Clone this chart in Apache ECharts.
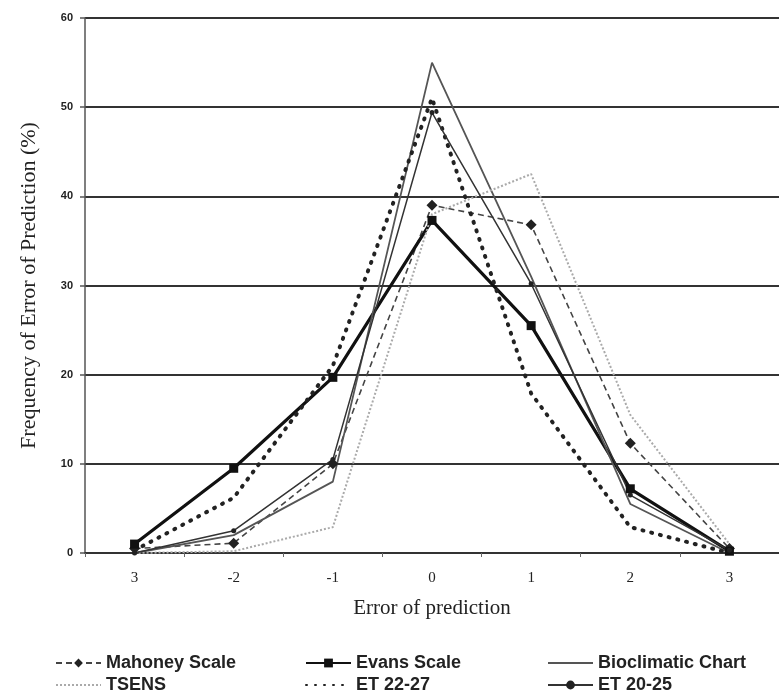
<!DOCTYPE html>
<html>
<head>
<meta charset="utf-8">
<script src="https://cdn.jsdelivr.net/npm/echarts@6/dist/echarts.min.js"></script>
<style>
html,body{margin:0;padding:0;background:#fff;}
#chart{width:779px;height:696px;}
</style>
</head>
<body>
<div id="chart"></div>
<script>
var categories = ['-3', '-2', '-1', '0', '1', '2', '3'];
var xTickLabels = ['3', '-2', '-1', '0', '1', '2', '3'];
var mahoney = [0.5, 1.1, 10, 39, 36.8, 12.3, 0.5];
var evans = [1, 9.5, 19.7, 37.3, 25.5, 7.2, 0.2];
var bioclimatic = [0, 2, 8, 55, 31, 5.5, 0];
var tsens = [0, 0.2, 2.9, 38, 42.5, 15.5, 1];
var et2227 = [0.3, 6.2, 21, 51, 17.9, 2.9, 0];
var et2025 = [0, 2.5, 10.5, 49.4, 30.2, 6.5, 0.3];
var seriesNames = ['Mahoney Scale', 'Evans Scale', 'Bioclimatic Chart', 'TSENS', 'ET 22-27', 'ET 20-25'];

var chart = echarts.init(document.getElementById('chart'));
var legendFont = {fontFamily: 'Liberation Sans', fontWeight: 'bold', fontSize: 18, color: '#222'};
function legendAt(name, left, top, hideSymbol) {
  var l = {
    data: [name], left: left, top: top, itemWidth: 45, itemHeight: 11,
    textStyle: legendFont, padding: 0, itemGap: 0
  };
  if (hideSymbol) { l.itemStyle = {opacity: 0}; }
  return l;
}
var option = {
  backgroundColor: '#fff',
  animation: false,
  grid: {left: 85, top: 18, width: 700, height: 535},
  legend: [
    legendAt(seriesNames[0], 55, 654, false),
    legendAt(seriesNames[1], 305, 654, false),
    legendAt(seriesNames[2], 547, 654, true),
    legendAt(seriesNames[3], 55, 676, true),
    legendAt(seriesNames[4], 305, 676, true),
    legendAt(seriesNames[5], 547, 676, false)
  ],
  xAxis: {
    type: 'category',
    data: categories,
    boundaryGap: true,
    name: 'Error of prediction',
    nameLocation: 'middle',
    nameGap: 45,
    nameTextStyle: {fontFamily: 'Liberation Serif', fontSize: 21, color: '#222'},
    axisLine: {show: true, lineStyle: {color: '#333', width: 2}},
    axisTick: {show: true, length: 4, lineStyle: {color: '#666', width: 1}},
    axisLabel: {
      margin: 18,
      fontFamily: 'Liberation Serif', fontSize: 15, color: '#222',
      formatter: function (v, i) { return xTickLabels[i]; }
    }
  },
  yAxis: {
    type: 'value',
    min: 0, max: 60, interval: 10,
    name: 'Frequency of Error of Prediction (%)',
    nameLocation: 'middle',
    nameGap: 45,
    nameTextStyle: {fontFamily: 'Liberation Serif', fontSize: 22, color: '#222'},
    axisLine: {show: true, lineStyle: {color: '#555', width: 1.5}},
    axisTick: {show: true, length: 5, lineStyle: {color: '#555', width: 1.5}},
    axisLabel: {margin: 12, fontFamily: 'Liberation Sans', fontWeight: 'bold', fontSize: 11, color: '#222'},
    splitLine: {show: true, lineStyle: {color: '#333', width: 2}}
  },
  series: [
    {
      name: seriesNames[0], type: 'line', data: mahoney,
      symbol: 'diamond', symbolSize: 11,
      itemStyle: {color: '#222'},
      lineStyle: {color: '#444', width: 1.6, type: [6, 4]}
    },
    {
      name: seriesNames[1], type: 'line', data: evans,
      symbol: 'rect', symbolSize: 9,
      itemStyle: {color: '#111'},
      lineStyle: {color: '#111', width: 3.2}
    },
    {
      name: seriesNames[2], type: 'line', data: bioclimatic,
      symbol: 'none',
      itemStyle: {color: '#555'},
      lineStyle: {color: '#555', width: 1.8}
    },
    {
      name: seriesNames[3], type: 'line', data: tsens,
      symbol: 'none',
      itemStyle: {color: '#aaa'},
      lineStyle: {color: '#aaa', width: 2, type: [2, 2]}
    },
    {
      name: seriesNames[4], type: 'line', data: et2227,
      symbol: 'none',
      itemStyle: {color: '#222'},
      lineStyle: {color: '#222', width: 4, type: [1, 8], cap: 'round'}
    },
    {
      name: seriesNames[5], type: 'line', data: et2025,
      symbol: 'circle', symbolSize: 5,
      itemStyle: {color: '#222'},
      lineStyle: {color: '#333', width: 1.5}
    }
  ]
};
chart.setOption(option);
</script>
</body>
</html>
